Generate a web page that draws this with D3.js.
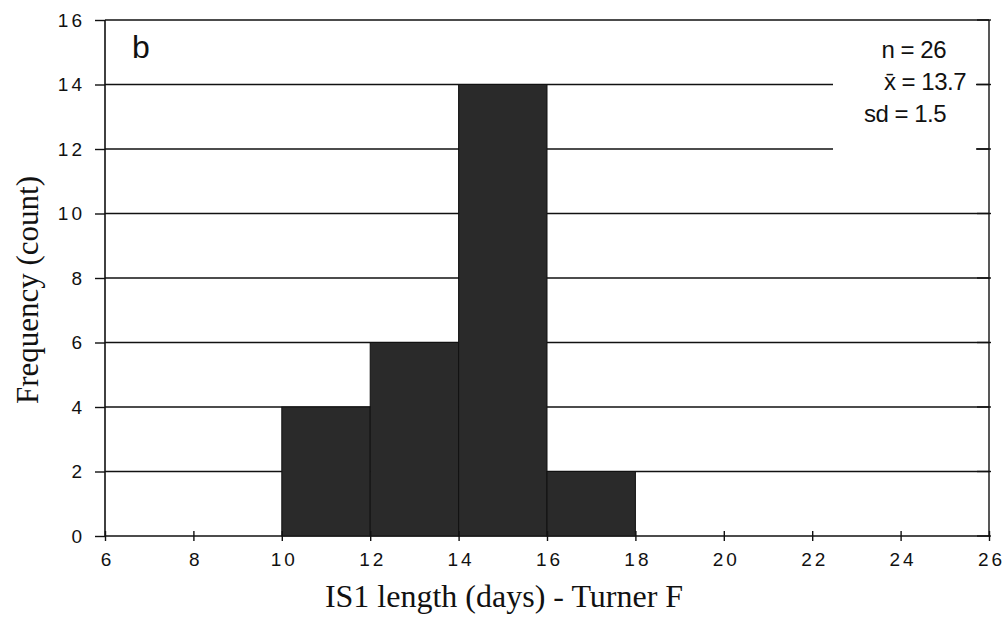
<!DOCTYPE html>
<html>
<head>
<meta charset="utf-8">
<script src="https://cdn.jsdelivr.net/npm/d3@7"></script>
<style>
  body { margin: 0; background: #fff; }
  svg { display: block; }
</style>
</head>
<body>
<div id="chart"></div>
<script>
// histogram bins (days) and counts
const binStarts = [10, 12, 14, 16];
const binWidth = 2;
const counts = [4, 6, 14, 2];
const xTicks = [6, 8, 10, 12, 14, 16, 18, 20, 22, 24, 26];
const yTicks = [0, 2, 4, 6, 8, 10, 12, 14, 16];
const statLines = ['n = 26', 'x\u0304 = 13.7', 'sd = 1.5'];

const width = 1008, height = 624;
const margin = { left: 105, right: 19, top: 20, bottom: 88 };

const svg = d3.select('#chart').append('svg')
    .attr('width', width)
    .attr('height', height);

const x = d3.scaleLinear().domain([6, 26]).range([margin.left, width - margin.right]);
const y = d3.scaleLinear().domain([0, 16]).range([height - margin.bottom, margin.top]);

// gridlines
svg.append('g').selectAll('line')
    .data(yTicks)
    .join('line')
    .attr('x1', x(6)).attr('x2', x(26))
    .attr('y1', d => y(d)).attr('y2', d => y(d))
    .attr('stroke', '#111')
    .attr('stroke-width', 1.6);

// blank box behind the stats text
svg.append('rect')
    .attr('x', 833).attr('y', y(16) + 2)
    .attr('width', 143).attr('height', 140)
    .attr('fill', '#fff');

// bars
svg.append('g').selectAll('rect')
    .data(binStarts)
    .join('rect')
    .attr('x', d => x(d))
    .attr('width', d => x(d + binWidth) - x(d))
    .attr('y', (d, i) => y(counts[i]))
    .attr('height', (d, i) => y(0) - y(counts[i]))
    .attr('fill', '#2a2a2a')
    .attr('stroke', '#111')
    .attr('stroke-width', 1);

// frame sides
svg.append('line')
    .attr('x1', x(6)).attr('x2', x(6))
    .attr('y1', y(16)).attr('y2', y(0))
    .attr('stroke', '#111').attr('stroke-width', 1.6);
svg.append('line')
    .attr('x1', x(26)).attr('x2', x(26))
    .attr('y1', y(16)).attr('y2', y(0))
    .attr('stroke', '#111').attr('stroke-width', 1.4);

// y axis
const yAxis = d3.axisLeft(y).tickValues(yTicks).tickSize(10).tickSizeOuter(0);
const gy = svg.append('g')
    .attr('transform', `translate(${x(6)},0)`)
    .call(yAxis);
gy.select('.domain').remove();
gy.selectAll('.tick line').attr('stroke', '#111').attr('stroke-width', 1.4);
gy.selectAll('.tick text')
    .attr('x', -20)
    .style('font-family', 'Liberation Sans, Arial, sans-serif')
    .style('font-size', '19px')
    .style('letter-spacing', '3px')
    .attr('fill', '#111');

// x axis, ticks crossing the baseline
const xAxis = d3.axisBottom(x).tickValues(xTicks).tickSize(5).tickSizeOuter(0);
const gx = svg.append('g')
    .attr('transform', `translate(0,${y(0)})`)
    .call(xAxis);
gx.select('.domain').remove();
gx.selectAll('.tick line').attr('y1', -5).attr('stroke', '#111').attr('stroke-width', 1.4);
gx.selectAll('.tick text')
    .attr('y', 17)
    .attr('dx', '2px')
    .style('font-family', 'Liberation Sans, Arial, sans-serif')
    .style('font-size', '19px')
    .style('letter-spacing', '3px')
    .attr('fill', '#111');

// right-side ticks
svg.append('g').selectAll('line')
    .data(yTicks)
    .join('line')
    .attr('x1', x(26) - 12).attr('x2', x(26) + 2)
    .attr('y1', d => y(d)).attr('y2', d => y(d))
    .attr('stroke', '#111').attr('stroke-width', 1.4);

// panel letter
svg.append('text')
    .attr('x', 132).attr('y', 58)
    .style('font-family', 'Liberation Sans, Arial, sans-serif')
    .style('font-size', '32px')
    .attr('fill', '#111')
    .text('b');

// stats
svg.append('g').selectAll('text')
    .data(statLines)
    .join('text')
    .attr('x', (d, i) => [946, 966, 946][i])
    .attr('y', (d, i) => 58 + i * 32)
    .attr('text-anchor', 'end')
    .style('font-family', 'Liberation Sans, Arial, sans-serif')
    .style('font-size', '24px')
    .style('letter-spacing', '-0.5px')
    .attr('fill', '#111')
    .text(d => d);

// axis titles
svg.append('text')
    .attr('x', 504).attr('y', 607)
    .attr('text-anchor', 'middle')
    .style('font-family', 'Liberation Serif, Times New Roman, serif')
    .style('font-size', '32px')
    .attr('fill', '#111')
    .text('IS1 length (days) - Turner F');

svg.append('text')
    .attr('transform', `translate(38,${290}) rotate(-90)`)
    .attr('text-anchor', 'middle')
    .style('font-family', 'Liberation Serif, Times New Roman, serif')
    .style('font-size', '31px')
    .attr('fill', '#111')
    .text('Frequency (count)');
</script>
</body>
</html>
